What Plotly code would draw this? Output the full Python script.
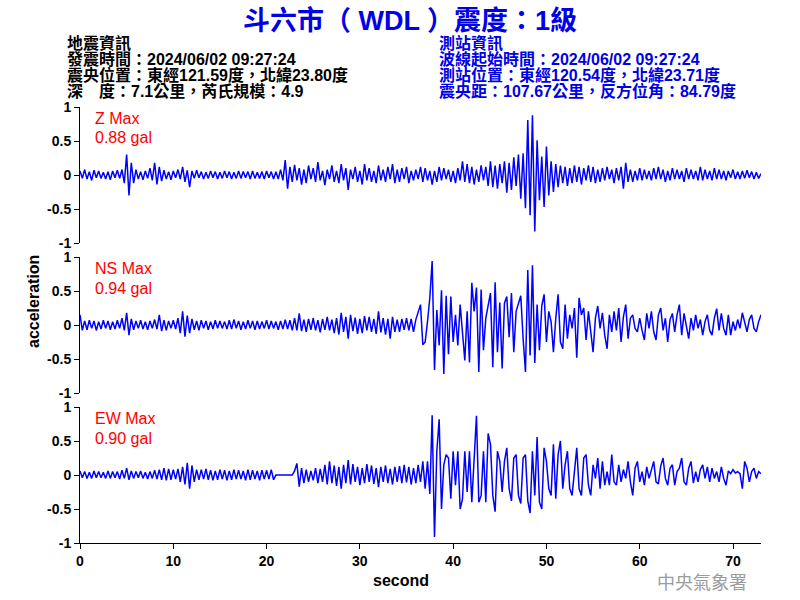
import plotly.graph_objects as go

# ---------------- data (0.25 s steps) ----------------
TIME_STEP = 0.25

Z_ACC = [
    0.06, -0.05, 0.08, -0.06, 0.05, -0.08, 0.07, -0.04,
    0.06, -0.05, 0.04, -0.06, 0.05, -0.07, 0.06, -0.04,
    0.07, -0.05, 0.08, -0.12, 0.30, -0.30, 0.18, -0.12,
    0.08, -0.06, 0.05, -0.07, 0.06, -0.05, 0.10, -0.08,
    0.18, -0.14, 0.12, -0.09, 0.07, -0.06, 0.05, -0.07,
    0.06, -0.04, 0.08, -0.06, 0.12, -0.10, 0.07, -0.18,
    0.06, -0.05, 0.07, -0.04, 0.05, -0.06, 0.04, -0.05,
    0.06, -0.04, 0.05, -0.06, 0.04, -0.05, 0.06, -0.04,
    0.05, -0.06, 0.04, -0.05, 0.06, -0.05, 0.05, -0.04,
    0.05, -0.06, 0.06, -0.05, 0.04, -0.05, 0.05, -0.06,
    0.06, -0.04, 0.05, -0.06, 0.05, -0.06, 0.08, -0.08,
    0.22, -0.20, 0.12, -0.10, 0.15, -0.08, 0.10, -0.14,
    0.08, -0.12, 0.14, -0.06, 0.10, -0.10, 0.19, -0.08,
    0.06, -0.15, 0.08, -0.06, 0.14, -0.10, 0.06, -0.12,
    0.16, -0.08, 0.10, -0.22, 0.08, -0.06, 0.12, -0.10,
    0.06, -0.14, 0.16, -0.08, 0.10, -0.10, 0.06, -0.12,
    0.14, -0.08, 0.08, -0.10, 0.12, -0.06, 0.16, -0.12,
    0.08, -0.10, 0.10, -0.06, 0.12, -0.12, 0.06, -0.08,
    0.08, -0.06, 0.12, -0.10, 0.10, -0.08, 0.06, -0.14,
    0.06, -0.10, 0.12, -0.08, 0.10, -0.06, 0.08, -0.10,
    0.06, -0.12, 0.10, -0.08, 0.20, -0.10, 0.16, -0.12,
    0.12, -0.14, 0.08, -0.10, 0.14, -0.08, 0.12, -0.16,
    0.20, -0.18, 0.14, -0.20, 0.16, -0.12, 0.20, -0.26,
    0.18, -0.22, 0.26, -0.16, 0.30, -0.35, 0.32, -0.49,
    0.81, -0.59, 0.88, -0.83, 0.51, -0.37, 0.27, -0.47,
    0.42, -0.30, 0.20, -0.25, 0.16, -0.18, 0.14, -0.12,
    0.12, -0.16, 0.10, -0.12, 0.14, -0.10, 0.12, -0.14,
    0.10, -0.08, 0.14, -0.10, 0.12, -0.12, 0.08, -0.10,
    0.10, -0.08, 0.12, -0.06, 0.08, -0.12, 0.10, -0.08,
    0.12, -0.20, 0.18, -0.10, 0.08, -0.10, 0.06, -0.08,
    0.10, -0.08, 0.08, -0.06, 0.06, -0.08, 0.10, -0.06,
    0.12, -0.06, 0.08, -0.10, 0.06, -0.08, 0.10, -0.06,
    0.08, -0.06, 0.06, -0.10, 0.10, -0.06, 0.08, -0.06,
    0.06, -0.08, 0.12, -0.08, 0.08, -0.06, 0.06, -0.08,
    0.10, -0.06, 0.08, -0.06, 0.06, -0.08, 0.06, -0.04,
    0.08, -0.06, 0.05, -0.06, 0.06, -0.05, 0.07, -0.04,
    0.05, -0.06, 0.04, -0.05, 0.02,
]

NS_ACC = [
    0.15, -0.08, 0.06, -0.07, 0.07, -0.05, 0.06, -0.08,
    0.05, -0.06, 0.07, -0.05, 0.06, -0.07, 0.05, -0.06,
    0.07, -0.05, 0.10, -0.08, 0.18, -0.15, 0.09, -0.07,
    0.06, -0.05, 0.07, -0.06, 0.05, -0.07, 0.06, -0.05,
    0.08, -0.06, 0.15, -0.09, 0.07, -0.08, 0.06, -0.05,
    0.07, -0.06, 0.10, -0.12, 0.20, -0.17, 0.14, -0.12,
    0.09, -0.07, 0.06, -0.08, 0.07, -0.05, 0.06, -0.07,
    0.05, -0.06, 0.07, -0.05, 0.06, -0.05, 0.05, -0.06,
    0.07, -0.06, 0.08, -0.05, 0.06, -0.07, 0.05, -0.06,
    0.07, -0.05, 0.06, -0.07, 0.06, -0.06, 0.05, -0.05,
    0.07, -0.06, 0.06, -0.05, 0.05, -0.07, 0.06, -0.06,
    0.08, -0.06, 0.07, -0.08, 0.10, -0.08, 0.17, -0.09,
    0.08, -0.10, 0.09, -0.07, 0.10, -0.08, 0.07, -0.11,
    0.09, -0.07, 0.12, -0.08, 0.08, -0.12, 0.10, -0.14,
    0.18, -0.10, 0.12, -0.20, 0.15, -0.09, 0.11, -0.13,
    0.09, -0.12, 0.13, -0.08, 0.12, -0.10, 0.09, -0.13,
    0.20, -0.11, 0.10, -0.14, 0.09, -0.20, 0.12, -0.10,
    0.08, -0.10, 0.09, -0.07, 0.10, -0.08, 0.09, -0.10,
    0.08, 0.20, 0.30, -0.29, -0.25, 0.05, 0.40, 0.94,
    -0.66, 0.22, -0.30, 0.51, -0.72, 0.43, -0.43, 0.42,
    -0.25, 0.15, -0.30, 0.30, -0.10, -0.52, 0.20, -0.55,
    0.62, 0.20, 0.55, -0.69, 0.52, -0.37, 0.10, 0.30,
    0.47, -0.62, 0.63, -0.40, 0.33, -0.64, 0.32, 0.42,
    -0.18, 0.47, -0.40, 0.20, 0.33, 0.43, -0.20, -0.69,
    0.81, -0.45, 0.88, -0.56, 0.30, -0.37, 0.28, 0.45,
    -0.25, 0.20, 0.05, -0.40, 0.10, 0.45, -0.25, -0.35,
    0.30, -0.20, 0.15, -0.05, 0.25, -0.48, 0.40, 0.15,
    0.25, -0.22, 0.20, -0.10, -0.40, 0.10, 0.28, -0.05,
    0.18, -0.15, -0.35, 0.15, -0.10, 0.20, -0.08, 0.25,
    -0.25, 0.12, 0.30, -0.20, 0.10, 0.15, -0.05, -0.10,
    0.10, -0.08, -0.22, 0.17, -0.05, 0.20, -0.10, -0.22,
    0.15, 0.25, -0.08, 0.10, -0.25, 0.08, 0.17, -0.10,
    0.15, 0.30, -0.15, 0.17, -0.05, -0.20, 0.10, -0.08,
    0.15, -0.05, 0.08, -0.15, 0.05, 0.15, -0.08, -0.15,
    0.10, 0.24, -0.08, 0.17, -0.05, -0.15, 0.15, -0.15,
    0.05, -0.08, 0.08, -0.05, 0.18, 0.05, -0.10, 0.08,
    0.15, -0.05, -0.10, 0.05, 0.15,
]

EW_ACC = [
    0.06, -0.04, 0.05, -0.05, 0.04, -0.05, 0.06, -0.04,
    0.05, -0.04, 0.04, -0.05, 0.06, -0.05, 0.05, -0.04,
    0.05, -0.06, 0.07, -0.05, 0.10, -0.07, 0.06, -0.05,
    0.05, -0.04, 0.06, -0.05, 0.04, -0.06, 0.05, -0.05,
    0.07, -0.06, 0.08, -0.07, 0.10, -0.08, 0.09, -0.07,
    0.08, -0.06, 0.09, -0.10, 0.12, -0.14, 0.18, -0.20,
    0.14, -0.10, 0.08, -0.07, 0.08, -0.06, 0.09, -0.07,
    0.07, -0.08, 0.06, -0.07, 0.08, -0.06, 0.07, -0.08,
    0.06, -0.07, 0.08, -0.06, 0.07, -0.06, 0.06, -0.08,
    0.08, -0.07, 0.07, -0.06, 0.06, -0.08, 0.07, -0.06,
    0.07, -0.06, 0.08, -0.07, 0.00, 0.00, 0.00, 0.00,
    0.00, 0.00, 0.00, 0.00, 0.06, 0.17, -0.17, 0.10,
    -0.12, 0.08, -0.10, 0.06, -0.08, 0.10, -0.12, 0.09,
    -0.10, 0.15, -0.14, 0.20, -0.12, 0.14, -0.16, 0.12,
    -0.20, 0.15, -0.12, 0.22, -0.14, 0.16, -0.10, 0.12,
    -0.15, 0.10, -0.12, 0.16, -0.10, 0.14, -0.13, 0.10,
    -0.18, 0.12, -0.10, 0.14, -0.12, 0.09, -0.14, 0.12,
    -0.10, 0.13, -0.12, 0.15, -0.11, 0.12, -0.14, 0.10,
    -0.12, 0.15, -0.10, 0.20, -0.20, 0.20, -0.28, 0.88,
    -0.91, 0.35, 0.82, -0.50, 0.15, 0.30, 0.25, -0.35,
    0.35, -0.15, 0.35, -0.50, -0.35, 0.35, -0.25, 0.35,
    -0.40, 0.20, 0.87, -0.40, -0.30, 0.35, -0.40, 0.61,
    0.45, -0.30, -0.54, 0.35, 0.20, -0.25, 0.20, 0.40,
    -0.20, -0.38, 0.25, 0.30, -0.30, -0.42, 0.25, 0.30,
    -0.38, -0.56, 0.35, -0.30, 0.56, -0.40, -0.50, 0.40,
    0.20, -0.20, -0.30, 0.45, -0.35, 0.30, 0.50, -0.20,
    0.15, 0.35, -0.20, -0.30, 0.10, 0.40, -0.20, -0.30,
    0.25, 0.30, -0.15, -0.30, 0.15, -0.05, 0.25, -0.20,
    0.20, -0.15, 0.05, -0.15, 0.30, -0.10, -0.15, 0.15,
    -0.10, 0.08, -0.05, 0.20, -0.10, -0.30, 0.10, 0.20,
    -0.10, 0.05, -0.15, 0.12, -0.05, 0.08, 0.20, -0.10,
    -0.13, 0.13, 0.25, -0.05, -0.15, 0.10, 0.15, -0.15,
    0.05, 0.10, 0.25, -0.10, -0.15, 0.10, 0.20, -0.12,
    0.05, -0.10, 0.08, 0.15, -0.05, 0.12, -0.10, 0.10,
    -0.05, 0.05, -0.10, 0.12, -0.05, -0.15, 0.06, 0.02,
    0.08, 0.03, 0.05, 0.02, -0.20, 0.20, 0.10, -0.10,
    0.05, 0.10, -0.05, 0.05, 0.02,
]

COMPONENT_LABELS = ["Z Max", "NS Max", "EW Max"]
PEAK_LABELS = ["0.88 gal", "0.94 gal", "0.90 gal"]
Y_TICK_VALUES = [-1, -0.5, 0, 0.5, 1]
Y_TICK_TEXT = ["-1", "-0.5", "0", "0.5", "1"]
X_TICK_VALUES = [0, 10, 20, 30, 40, 50, 60, 70]
X_RANGE = [0, 73]

TITLE = "斗六市（ WDL ）震度：1級"
QUAKE_INFO = [
    "地震資訊",
    "發震時間：2024/06/02 09:27:24",
    "震央位置：東經121.59度，北緯23.80度",
    "深　度：7.1公里，芮氏規模：4.9",
]
STATION_INFO = [
    "測站資訊",
    "波線起始時間：2024/06/02 09:27:24",
    "測站位置：東經120.54度，北緯23.71度",
    "震央距：107.67公里，反方位角：84.79度",
]
Y_TITLE = "acceleration"
X_TITLE = "second"
WATERMARK = "中央氣象署"

# ---------------- layout geometry ----------------
W, H = 800, 600
ML, MR, MT, MB = 80, 39, 107, 57
PW, PH = W - ML - MR, H - MT - MB

def px(x):
    return (x - ML) / PW

def py(y):
    return (H - MB - y) / PH

LATIN_CJK = "Liberation Sans, Arial, Noto Sans CJK TC, sans-serif"
CJK = "Noto Sans CJK TC, Liberation Sans, sans-serif"

series = [Z_ACC, NS_ACC, EW_ACC]
domains = [[py(243), py(107)], [py(393), py(257)], [py(543), py(407)]]

fig = go.Figure()
for i, vals in enumerate(series):
    t = [k * TIME_STEP for k in range(len(vals))]
    fig.add_trace(go.Scatter(
        x=t, y=vals, mode="lines",
        line=dict(color="#0000FF", width=1.5),
        xaxis="x" if i == 0 else f"x{i+1}",
        yaxis="y" if i == 0 else f"y{i+1}",
        showlegend=False, hoverinfo="skip",
    ))

tick_font = dict(family="Liberation Sans, Arial, sans-serif", size=14,
                 color="black", weight="bold")
layout = dict(
    width=W, height=H,
    margin=dict(l=ML, r=MR, t=MT, b=MB),
    paper_bgcolor="white", plot_bgcolor="white",
    showlegend=False,
)
for i in range(3):
    xa = "xaxis" if i == 0 else f"xaxis{i+1}"
    ya = "yaxis" if i == 0 else f"yaxis{i+1}"
    ylink = "y" if i == 0 else f"y{i+1}"
    xlink = "x" if i == 0 else f"x{i+1}"
    bottom = (i == 2)
    layout[xa] = dict(
        domain=[0, 1], anchor=ylink, range=X_RANGE,
        showgrid=False, zeroline=False,
        showline=bottom, linecolor="black", linewidth=1,
        ticks="outside" if bottom else "", ticklen=5, tickcolor="black",
        tickvals=X_TICK_VALUES, showticklabels=bottom,
        tickfont=tick_font,
    )
    if i > 0:
        layout[xa]["matches"] = "x"
    layout[ya] = dict(
        domain=domains[i], anchor=xlink, range=[-1, 1],
        showgrid=False, zeroline=False,
        showline=True, linecolor="black", linewidth=1,
        ticks="outside", ticklen=5, tickcolor="black",
        tickvals=Y_TICK_VALUES, ticktext=Y_TICK_TEXT,
        tickfont=tick_font,
    )
fig.update_layout(**layout)

ann = []
# title
ann.append(dict(text=TITLE, x=px(410), y=py(21), xref="paper", yref="paper",
                xanchor="center", yanchor="middle", showarrow=False,
                font=dict(family=LATIN_CJK, size=27, color="#0000E6", weight="bold")))
# info blocks
for j, line in enumerate(QUAKE_INFO):
    ann.append(dict(text=line, x=px(65), y=py(43 + 16 * j), xref="paper", yref="paper",
                    xanchor="left", yanchor="middle", showarrow=False,
                    font=dict(family=LATIN_CJK, size=16, color="black", weight="bold")))
for j, line in enumerate(STATION_INFO):
    ann.append(dict(text=line, x=px(437), y=py(43 + 16 * j), xref="paper", yref="paper",
                    xanchor="left", yanchor="middle", showarrow=False,
                    font=dict(family=LATIN_CJK, size=16, color="#0000E6", weight="bold")))
# component max labels
for i in range(3):
    top = 107 + 150 * i
    ann.append(dict(text=COMPONENT_LABELS[i], x=px(93), y=py(top + 11), xref="paper",
                    yref="paper", xanchor="left", yanchor="middle", showarrow=False,
                    font=dict(family="Liberation Sans, Arial", size=16, color="#FF0000")))
    ann.append(dict(text=PEAK_LABELS[i], x=px(93), y=py(top + 31), xref="paper",
                    yref="paper", xanchor="left", yanchor="middle", showarrow=False,
                    font=dict(family="Liberation Sans, Arial", size=16, color="#FF0000")))
# axis titles
ann.append(dict(text=Y_TITLE, x=px(33), y=py(302), xref="paper", yref="paper",
                xanchor="center", yanchor="middle", textangle=-90, showarrow=False,
                font=dict(family="Liberation Sans, Arial", size=16, color="black", weight="bold")))
ann.append(dict(text=X_TITLE, x=px(401), y=py(580), xref="paper", yref="paper",
                xanchor="center", yanchor="middle", showarrow=False,
                font=dict(family="Liberation Sans, Arial", size=16, color="black", weight="bold")))
# watermark
ann.append(dict(text=WATERMARK, x=px(702), y=py(581), xref="paper", yref="paper",
                xanchor="center", yanchor="middle", showarrow=False,
                font=dict(family=CJK, size=18, color="#9C9C9C")))
fig.update_layout(annotations=ann)

fig.write_html("out.html")
